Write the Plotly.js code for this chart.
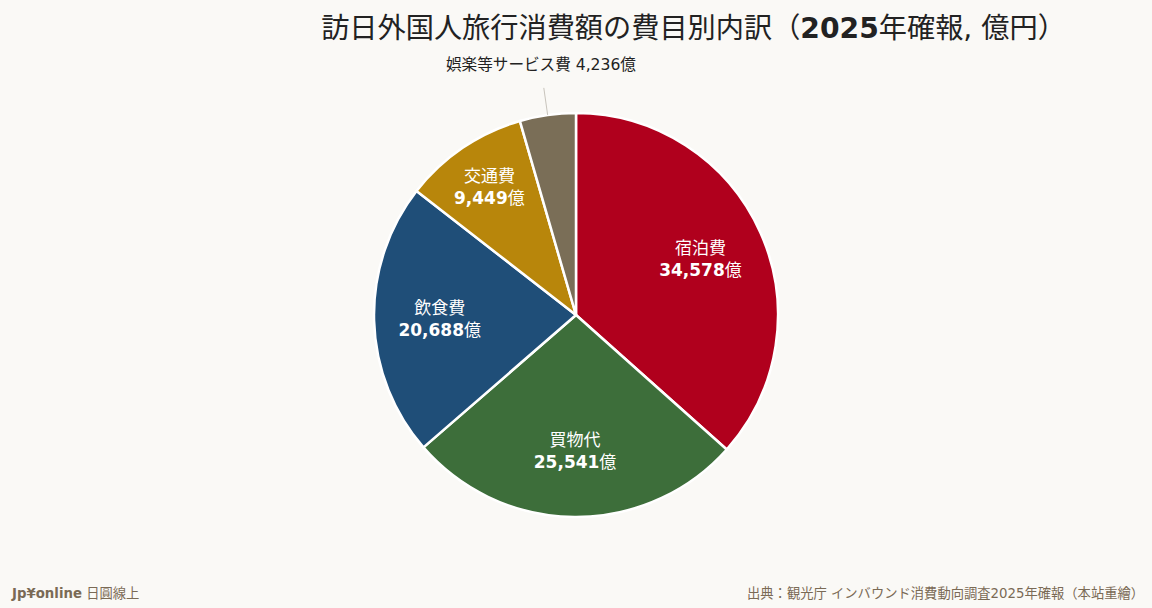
<!DOCTYPE html>
<html>
<head>
<meta charset="utf-8">
<script src="https://cdn.plot.ly/plotly-3.0.1.min.js"></script>
<style>
  html, body { margin: 0; padding: 0; background: #faf9f6; }
  #chart { width: 1152px; height: 608px; }
</style>
</head>
<body>
<div id="chart"></div>
<script>
// 費目別の消費額（億円）
const categories = ['宿泊費', '買物代', '飲食費', '交通費', '娯楽等サービス費'];
const amounts = [34578, 25541, 20688, 9449, 4236];
const sliceColors = ['#b0001d', '#3d6e3a', '#1f4e78', '#b8860b', '#7a6e57'];

const W = 1152, H = 608;
const M = { l: 0, r: 0, t: 113, b: 91 };
const fmt = v => v.toLocaleString('en-US');
const total = amounts.reduce((a, b) => a + b, 0);

// big slices get their label inside, the small one gets a callout above
const insideText = categories.map((c, i) =>
    i < 4 ? c + '<br><b>' + fmt(amounts[i]) + '</b>億' : '');

// slices
const base = {
    type: 'pie',
    labels: categories,
    values: amounts,
    textinfo: 'none',
    hoverinfo: 'label+value',
    sort: false,
    direction: 'clockwise',
    rotation: 0,
    marker: {
        colors: sliceColors,
        line: { color: '#ffffff', width: 2.5 },
    },
    showlegend: false,
};

// transparent ring on top, only to push the inside labels outward
const labelsRing = {
    type: 'pie',
    labels: categories,
    values: amounts,
    hole: 0.35,
    text: insideText,
    textinfo: 'text',
    textposition: 'inside',
    insidetextorientation: 'horizontal',
    insidetextfont: { color: '#ffffff', size: 17 },
    hoverinfo: 'skip',
    sort: false,
    direction: 'clockwise',
    rotation: 0,
    marker: {
        colors: categories.map(() => 'rgba(0,0,0,0)'),
        line: { width: 0 },
    },
    showlegend: false,
};

// callout for the last slice, at its mid angle on the pie edge
const plotW = W - M.l - M.r, plotH = H - M.t - M.b;
const R = Math.min(plotW, plotH) / 2;
const before = amounts.slice(0, 4).reduce((a, b) => a + b, 0);
const mid = (before + amounts[4] / 2) / total * 2 * Math.PI;
const edgeX = 0.5 + R * Math.sin(mid) / plotW;
const edgeY = 0.5 + R * Math.cos(mid) / plotH;

const layout = {
    width: W,
    height: H,
    paper_bgcolor: '#faf9f6',
    plot_bgcolor: '#faf9f6',
    font: { family: 'DejaVu Sans, Noto Sans CJK JP, sans-serif', color: '#222' },
    margin: M,
    title: {
        text: '訪日外国人旅行消費額の費目別内訳（<b>2025</b>年確報, 億円）',
        font: { size: 28.2, color: '#222' },
        x: 0.602,
        xanchor: 'center',
        y: 0.953,
        yanchor: 'middle',
    },
    annotations: [
        {
            text: categories[4] + ' ' + fmt(amounts[4]) + '億',
            xref: 'paper', yref: 'paper',
            x: edgeX, y: edgeY,
            ax: 50 * Math.sin(mid), ay: -50 * Math.cos(mid),
            showarrow: true,
            arrowhead: 0,
            arrowwidth: 1,
            arrowcolor: '#c8c4bc',
            startstandoff: 12,
            font: { size: 15.6, color: '#222' },
        },
        {
            text: '<b>Jp¥online</b> 日圓線上',
            xref: 'paper', yref: 'paper',
            x: 0.008, y: -0.19,
            xanchor: 'left', yanchor: 'middle',
            showarrow: false,
            font: { size: 13.3, color: '#7a6a55' },
        },
        {
            text: '出典：観光庁 インバウンド消費動向調査2025年確報（本站重繪）',
            xref: 'paper', yref: 'paper',
            x: 0.995, y: -0.19,
            xanchor: 'right', yanchor: 'middle',
            showarrow: false,
            font: { size: 13.3, color: '#7a6a55' },
        },
    ],
};

Plotly.newPlot('chart', [base, labelsRing], layout, { displayModeBar: false });
</script>
</body>
</html>
